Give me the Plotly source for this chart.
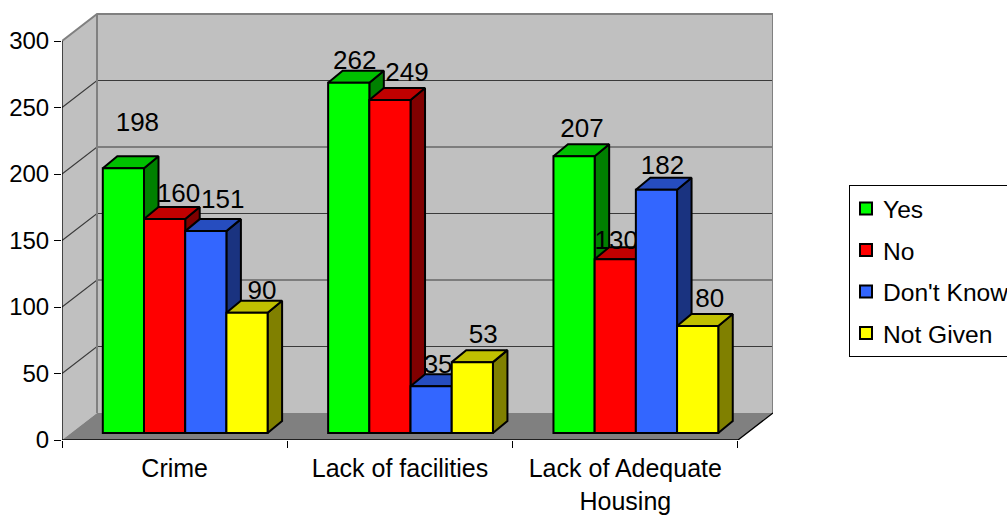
import plotly.graph_objects as go

categories = ["Crime", "Lack of facilities", "Lack of Adequate<br>Housing"]
series_names = ["Yes", "No", "Don't Know", "Not Given"]
yes_values = [198, 262, 207]
no_values = [160, 249, 130]
dont_know_values = [151, 35, 182]
not_given_values = [90, 53, 80]
y_ticks = [0, 50, 100, 150, 200, 250, 300]

front_colors = ["#00FF00", "#FF0000", "#3366FF", "#FFFF00"]
side_colors = ["#008000", "#800000", "#1A3380", "#808000"]
top_colors = ["#00C000", "#C00000", "#264DBF", "#C0C000"]

# label nudges in pixels, per series then category
label_dx = [[14, 6, 8], [14, 17, 1], [17, 7, 6], [15, 11, 12]]
label_dy = [[-44, -20, -26], [-24, -26, -17], [-30, -20, -22], [-20, -26, -26]]

W, H = 1007, 515
L, R, T, B = 62, 773, 13, 440          # plot box in pixels
PX_X = 225.33                          # px per category
PX_Y = 1.33                            # px per value, walls
PX_Y_BAR = 1.337                       # px per value, bars
WALL_DX, WALL_DY = 35, 27
BAR_DX, BAR_DY = 14.5, 12
BAR_W = 41.2
BAR_BASE_PX = 433
CLUSTER0_PX = 185.2
AXIS_X0 = -0.5
AXIS_X1 = 2.5

all_values = [yes_values, no_values, dont_know_values, not_given_values]
fig = go.Figure()

wx = WALL_DX / PX_X
wy = WALL_DY / PX_Y
ymax = y_ticks[-1]
WALL = "#C0C0C0"
EDGE = "#808080"


def wall_poly(xs, ys, fill, line, width=1.5):
    fig.add_trace(go.Scatter(x=xs, y=ys, mode="lines", fill="toself", fillcolor=fill,
                             line=dict(color=line, width=width), showlegend=False,
                             hoverinfo="skip", xaxis="x", yaxis="y"))


def wall_line(xs, ys, color, width=1.2):
    fig.add_trace(go.Scatter(x=xs, y=ys, mode="lines", line=dict(color=color, width=width),
                             showlegend=False, hoverinfo="skip", xaxis="x", yaxis="y"))


# left wall, back wall, floor
wall_poly([AXIS_X0, AXIS_X0 + wx, AXIS_X0 + wx, AXIS_X0], [0, wy, ymax + wy, ymax], WALL, WALL, 0)
wall_poly([AXIS_X0 + wx, AXIS_X1 + wx, AXIS_X1 + wx, AXIS_X0 + wx],
          [wy, wy, ymax + wy, ymax + wy], WALL, WALL, 0)
wall_poly([AXIS_X0, AXIS_X1, AXIS_X1 + wx, AXIS_X0 + wx], [0, 0, wy, wy], EDGE, EDGE, 0)

# gridlines on left and back walls
for v in y_ticks[1:-1]:
    wall_line([AXIS_X0, AXIS_X0 + wx, AXIS_X1 + wx], [v, v + wy, v + wy], "#3A3A3A")
# wall edges
wall_line([AXIS_X0, AXIS_X0 + wx, AXIS_X1 + wx, AXIS_X1 + wx],
          [ymax, ymax + wy, ymax + wy, wy], EDGE, 2)
wall_line([AXIS_X0 + wx, AXIS_X0 + wx], [wy, ymax + wy], EDGE, 2)
# axis lines
wall_line([AXIS_X0, AXIS_X0], [0, ymax], "#000000", 1.3)
wall_line([AXIS_X0, AXIS_X1, AXIS_X1 + wx], [0, 0, wy], "#000000", 1.3)

# depth faces and labels (behind the front faces)
bw = BAR_W / PX_X
dx = BAR_DX / PX_X
dy = BAR_DY / PX_Y_BAR
for s, vals in enumerate(all_values):
    for c, v in enumerate(vals):
        x0 = c + (s - 2) * bw
        x1 = x0 + bw
        fig.add_trace(go.Scatter(x=[x1, x1 + dx, x1 + dx, x1, x1], y=[0, dy, v + dy, v, 0],
                                 mode="lines", fill="toself", fillcolor=side_colors[s],
                                 line=dict(color="#000000", width=2), showlegend=False,
                                 hoverinfo="skip", xaxis="x2", yaxis="y2"))
        fig.add_trace(go.Scatter(x=[x0, x1, x1 + dx, x0 + dx, x0], y=[v, v, v + dy, v + dy, v],
                                 mode="lines", fill="toself", fillcolor=top_colors[s],
                                 line=dict(color="#000000", width=2), showlegend=False,
                                 hoverinfo="skip", xaxis="x2", yaxis="y2"))

for s, vals in enumerate(all_values):
    xs = [c + (s - 1.5) * bw + label_dx[s][c] / PX_X for c in range(3)]
    ys = [vals[c] - label_dy[s][c] / PX_Y_BAR for c in range(3)]
    fig.add_trace(go.Scatter(x=xs, y=ys, mode="text", text=[str(v) for v in vals],
                             textposition="middle center",
                             textfont=dict(size=26, color="#000000"), showlegend=False,
                             hoverinfo="skip", xaxis="x2", yaxis="y2"))

# front faces
for s, vals in enumerate(all_values):
    fig.add_trace(go.Bar(x=[0, 1, 2], y=vals, name=series_names[s], legendgroup=series_names[s],
                         marker=dict(color=front_colors[s], line=dict(color="#000000", width=2)),
                         xaxis="x2", yaxis="y3", hoverinfo="skip"))

x_span = (R - L) / PX_X
bar_y_lo = -(B - BAR_BASE_PX) / PX_Y_BAR
bar_y_hi = (BAR_BASE_PX - T) / PX_Y_BAR
x2_lo = (L - CLUSTER0_PX) / PX_X

fig.update_layout(
    width=W, height=H, autosize=False,
    margin=dict(l=L, r=W - R, t=T, b=H - B, pad=0, autoexpand=False),
    paper_bgcolor="#FFFFFF", plot_bgcolor="rgba(0,0,0,0)",
    font=dict(family="Liberation Sans, Arial, sans-serif", size=24, color="#000000"),
    barmode="group", bargap=1 - 4 * BAR_W / PX_X, bargroupgap=0,
    xaxis=dict(range=[AXIS_X0, AXIS_X0 + x_span], tickmode="array", tickvals=[0, 1, 2],
               ticktext=categories, ticks="", showgrid=False, zeroline=False, showline=False,
               tickfont=dict(size=25), ticklabelstandoff=11,
               minor=dict(tickmode="array", tickvals=[-0.5, 0.5, 1.5, 2.5], ticks="outside",
                          ticklen=7, tickwidth=1.3, tickcolor="#000000", showgrid=False)),
    yaxis=dict(range=[0, (B - T) / PX_Y], tickmode="array", tickvals=y_ticks, ticks="outside",
               ticklen=7, tickwidth=1.3, tickcolor="#000000", showgrid=False, zeroline=False,
               showline=False, tickfont=dict(size=24)),
    xaxis2=dict(range=[x2_lo, x2_lo + x_span], overlaying="x", visible=False),
    yaxis2=dict(range=[bar_y_lo, bar_y_hi], overlaying="y", visible=False),
    yaxis3=dict(range=[bar_y_lo, bar_y_hi], overlaying="y", visible=False),
    legend=dict(x=(849 - L) / (R - L), y=(B - 185) / (B - T), xanchor="left", yanchor="top",
                bgcolor="#FFFFFF", bordercolor="#000000", borderwidth=1,
                tracegroupgap=6.5, traceorder="grouped", font=dict(size=24.6), itemclick=False,
                itemdoubleclick=False),
    hovermode=False,
)

page_script = """
document.body.style.margin = '0';
document.body.style.overflow = 'hidden';
document.querySelectorAll('.legendtext').forEach(function (t) { t.setAttribute('x', 33); });
document.querySelectorAll('.legendsymbols').forEach(function (g) { g.setAttribute('transform', 'translate(-4,0)'); });
"""
fig.write_html("out.html", config=dict(displayModeBar=False), post_script=page_script)
